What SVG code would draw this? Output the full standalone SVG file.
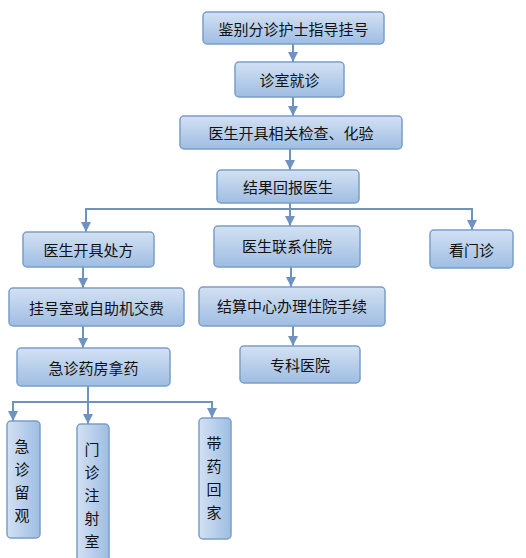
<svg xmlns="http://www.w3.org/2000/svg" width="526" height="558" viewBox="0 0 526 558">
<defs>
<linearGradient id="g" x1="0" y1="0" x2="0" y2="1">
<stop offset="0" stop-color="#d3e1f3"/>
<stop offset="1" stop-color="#9ebde2"/>
</linearGradient>
<linearGradient id="gv" x1="0" y1="0" x2="1" y2="0">
<stop offset="0" stop-color="#d3e1f3"/>
<stop offset="1" stop-color="#9ebde2"/>
</linearGradient>
<marker id="ah" viewBox="0 0 10 10" refX="10" refY="5" markerWidth="5" markerHeight="5" orient="auto" markerUnits="strokeWidth">
<path d="M0,0 L10,5 L0,10 z" fill="#6f93c0"/>
</marker>
<style>
.b{fill:url(#g);stroke:#7b9ec8;stroke-width:1.5}
.v{fill:url(#gv);stroke:#7b9ec8;stroke-width:1.5}
.t{font-family:"Noto Sans CJK SC","Noto Sans CJK JP",sans-serif;font-size:15px;fill:#111;text-anchor:middle;dominant-baseline:central}
.c{fill:none;stroke:#6f93c0;stroke-width:2}
</style>
</defs>
<g id="connectors">
<line class="c" x1="293" y1="44" x2="293" y2="62" marker-end="url(#ah)"/>
<line class="c" x1="293" y1="97" x2="293" y2="116" marker-end="url(#ah)"/>
<line class="c" x1="290" y1="149" x2="290" y2="170" marker-end="url(#ah)"/>
<line class="c" x1="290" y1="203" x2="290" y2="226" marker-end="url(#ah)"/>
<polyline class="c" points="86,232 86,209 472,209 472,230" marker-end="url(#ah)"/>
<line class="c" x1="83" y1="267" x2="83" y2="288" marker-end="url(#ah)"/>
<line class="c" x1="83" y1="326" x2="83" y2="348" marker-end="url(#ah)"/>
<line class="c" x1="291" y1="267" x2="291" y2="287" marker-end="url(#ah)"/>
<line class="c" x1="293" y1="326" x2="293" y2="346" marker-end="url(#ah)"/>
<line class="c" x1="88" y1="386" x2="88" y2="424" marker-end="url(#ah)"/>
<polyline class="c" points="13,421 13,402 212,402 212,418" marker-end="url(#ah)"/>
<line class="c" x1="86" y1="209" x2="86" y2="232" marker-end="url(#ah)"/>
<line class="c" x1="13" y1="402" x2="13" y2="421" marker-end="url(#ah)"/>
</g>
<g id="n1"><rect class="b" x="203" y="12" width="181" height="32" rx="4"/><text class="t" x="293.5" y="28">鉴别分诊护士指导挂号</text></g>
<g id="n2"><rect class="b" x="235" y="62" width="109" height="35" rx="4"/><text class="t" x="289.5" y="79.5">诊室就诊</text></g>
<g id="n3"><rect class="b" x="180" y="116" width="222" height="33" rx="4"/><text class="t" x="291" y="132.5">医生开具相关检查、化验</text></g>
<g id="n4"><rect class="b" x="217" y="170" width="142" height="33" rx="4"/><text class="t" x="288" y="186.5">结果回报医生</text></g>
<g id="n5"><rect class="b" x="23" y="232" width="131" height="35" rx="4"/><text class="t" x="88.5" y="249.5">医生开具处方</text></g>
<g id="n6"><rect class="b" x="214" y="226" width="146" height="41" rx="4"/><text class="t" x="287" y="245">医生联系住院</text></g>
<g id="n7"><rect class="b" x="430" y="230" width="83" height="38" rx="4"/><text class="t" x="471.5" y="249">看门诊</text></g>
<g id="n8"><rect class="b" x="9" y="288" width="175" height="38" rx="4"/><text class="t" x="96.5" y="307">挂号室或自助机交费</text></g>
<g id="n9"><rect class="b" x="199" y="287" width="186" height="39" rx="4"/><text class="t" x="292" y="305">结算中心办理住院手续</text></g>
<g id="n10"><rect class="b" x="17" y="348" width="153" height="38" rx="4"/><text class="t" x="93.5" y="367">急诊药房拿药</text></g>
<g id="n11"><rect class="b" x="240" y="346" width="120" height="37" rx="4"/><text class="t" x="300" y="364.5">专科医院</text></g>
<g id="n12"><rect class="v" x="7" y="421" width="33" height="117" rx="4"/>
<text class="t" x="22" y="445">急</text><text class="t" x="22" y="468">诊</text><text class="t" x="22" y="491">留</text><text class="t" x="22" y="514">观</text></g>
<g id="n13"><rect class="v" x="77" y="424" width="32" height="140" rx="4"/>
<text class="t" x="92" y="448">门</text><text class="t" x="92" y="471">诊</text><text class="t" x="92" y="494">注</text><text class="t" x="92" y="517">射</text><text class="t" x="92" y="540">室</text></g>
<g id="n14"><rect class="v" x="199" y="418" width="32" height="121" rx="4"/>
<text class="t" x="214" y="442">带</text><text class="t" x="214" y="465">药</text><text class="t" x="214" y="488">回</text><text class="t" x="214" y="511">家</text></g>
</svg>
